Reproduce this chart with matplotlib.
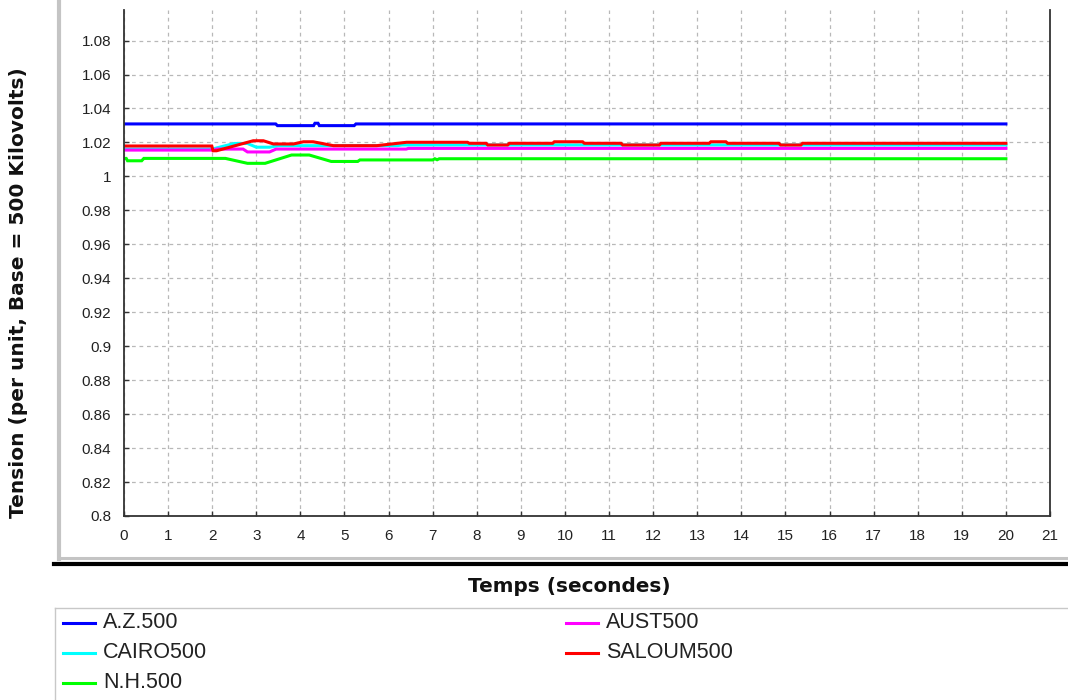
import matplotlib
matplotlib.use("Agg")
import matplotlib.pyplot as plt
from matplotlib.lines import Line2D

# ---------------- data ----------------
series_names = ["A.Z.500", "CAIRO500", "N.H.500", "AUST500", "SALOUM500"]
series_colors = ["#0000FF", "#00FFFF", "#00FF00", "#FF00FF", "#FF0000"]

t_az = [0, 3.44, 3.48, 4.30, 4.33, 4.40, 4.43, 5.22, 5.26, 20]
v_az = [1.0309, 1.0309, 1.0299, 1.0299, 1.0313, 1.0313, 1.0299, 1.0299, 1.0309, 1.0309]

t_cairo = [0, 2.0, 2.5, 2.8, 3.0, 3.3, 3.5, 6.2, 6.3, 20]
v_cairo = [1.0161, 1.0161, 1.0194, 1.0194, 1.0172, 1.0172, 1.0181, 1.0181, 1.0185, 1.0185]

t_nh = [0, 0.05, 0.08, 0.40, 0.45, 2.3, 2.8, 3.2, 3.8, 4.2, 4.7, 5.3, 5.35, 7.0, 7.05, 7.1, 7.15, 20]
v_nh = [1.0106, 1.0106, 1.0092, 1.0092, 1.0106, 1.0106, 1.0077, 1.0077, 1.0126, 1.0126,
        1.0088, 1.0088, 1.0097, 1.0097, 1.0104, 1.0098, 1.0104, 1.0104]

t_aust = [0, 2.05, 2.1, 2.7, 2.8, 3.3, 3.45, 6.4, 6.45, 20]
v_aust = [1.0155, 1.0155, 1.0161, 1.0161, 1.0144, 1.0144, 1.0161, 1.0161, 1.0165, 1.0165]

t_saloum = [0, 1.99, 2.02, 2.10, 2.93, 3.16, 3.39, 3.84, 4.07, 4.29, 4.75, 5.73, 6.41,
            7.79, 7.83, 8.21, 8.25, 8.70, 8.74, 9.72, 9.76, 10.40, 10.44, 11.27, 11.31,
            12.14, 12.18, 13.27, 13.31, 13.65, 13.69, 14.85, 14.89, 15.35, 15.39, 20]
v_saloum = [1.0179, 1.0179, 1.0151, 1.0151, 1.0210, 1.0210, 1.0191, 1.0191, 1.0204, 1.0204,
            1.0181, 1.0181, 1.0201,
            1.0201, 1.0195, 1.0195, 1.0185, 1.0185, 1.0195, 1.0195, 1.0204, 1.0204, 1.0195,
            1.0195, 1.0185, 1.0185, 1.0195, 1.0195, 1.0204, 1.0204, 1.0195, 1.0195, 1.0185,
            1.0185, 1.0195, 1.0195]

x_ticks = list(range(0, 22))
y_ticks = [0.8, 0.82, 0.84, 0.86, 0.88, 0.9, 0.92, 0.94, 0.96, 0.98, 1.0,
           1.02, 1.04, 1.06, 1.08]
y_tick_labels = ["0.8", "0.82", "0.84", "0.86", "0.88", "0.9", "0.92", "0.94", "0.96",
                 "0.98", "1", "1.02", "1.04", "1.06", "1.08"]

x_label = "Temps (secondes)"
y_label = "Tension (per unit, Base = 500 Kilovolts)"

# ---------------- figure ----------------
W, H = 1068, 700
fig = plt.figure(figsize=(W / 100, H / 100), dpi=100)
fig.patch.set_facecolor("white")

def fx(px):
    return px / W

def fy(py):
    return 1 - py / H

ax = fig.add_axes([fx(124), fy(516), fx(1050) - fx(124), fy(10) - fy(516)])

all_t = [t_az, t_cairo, t_nh, t_aust, t_saloum]
all_v = [v_az, v_cairo, v_nh, v_aust, v_saloum]
draw_order = [1, 3, 2, 0, 4]
lines = {}
for i in draw_order:
    ln, = ax.plot(all_t[i], all_v[i], color=series_colors[i], lw=2.2,
                  solid_joinstyle="miter", label=series_names[i])
    lines[i] = ln

ax.set_xlim(0, 21)
ax.set_ylim(0.8, 1.098)
ax.set_xticks(x_ticks)
ax.set_yticks(y_ticks)
ax.set_yticklabels(y_tick_labels)
ax.grid(True, color="#b8b8b8", linestyle=(0, (3, 3)), lw=0.9)
ax.set_axisbelow(True)
for lab in ax.get_xticklabels() + ax.get_yticklabels():
    lab.set_fontfamily("Liberation Sans")
    lab.set_fontsize(11)
    lab.set_color("#222222")
ax.tick_params(direction="in", length=3.5, width=1, color="#333333", pad=9)
ax.spines["top"].set_visible(False)
for s in ["left", "right", "bottom"]:
    ax.spines[s].set_color("#333333")
    ax.spines[s].set_linewidth(1.3)

# ---------------- labels ----------------
fig.text(fx(19), fy(293), y_label, rotation=90, ha="center", va="center",
         fontsize=14.5, fontweight="bold", family="DejaVu Sans", color="#111111")
fig.text(fx(569), fy(587), x_label, ha="center", va="center",
         fontsize=14.4, fontweight="bold", family="DejaVu Sans", color="#111111")

# ---------------- panel frame ----------------
fig.add_artist(Line2D([fx(59), fx(59)], [fy(0), fy(559)], color="#c4c4c4", lw=3))
fig.add_artist(Line2D([fx(59), fx(W)], [fy(558), fy(558)], color="#c4c4c4", lw=2.2))
fig.add_artist(Line2D([fx(54), fx(W)], [fy(563.5), fy(563.5)], color="#000000", lw=3))

# legend box
fig.add_artist(Line2D([fx(55), fx(W)], [fy(608), fy(608)], color="#c8c8c8", lw=1))
fig.add_artist(Line2D([fx(55), fx(55)], [fy(608), fy(H)], color="#c8c8c8", lw=1))

# ---------------- legend ----------------
col_x = [63, 566]
row_y = [623, 653, 683]
for k in range(5):
    col = 0 if k < 3 else 1
    row = k if k < 3 else k - 3
    ln = lines[k]
    x0 = col_x[col]
    y0 = row_y[row]
    fig.add_artist(Line2D([fx(x0), fx(x0 + 32)], [fy(y0), fy(y0)],
                          color=ln.get_color(), lw=2.2))
    fig.text(fx(x0 + 40), fy(y0), ln.get_label(), ha="left", va="center",
             fontsize=15.5, family="Liberation Sans", color="#222222")

fig.savefig("out.png", dpi=100)
